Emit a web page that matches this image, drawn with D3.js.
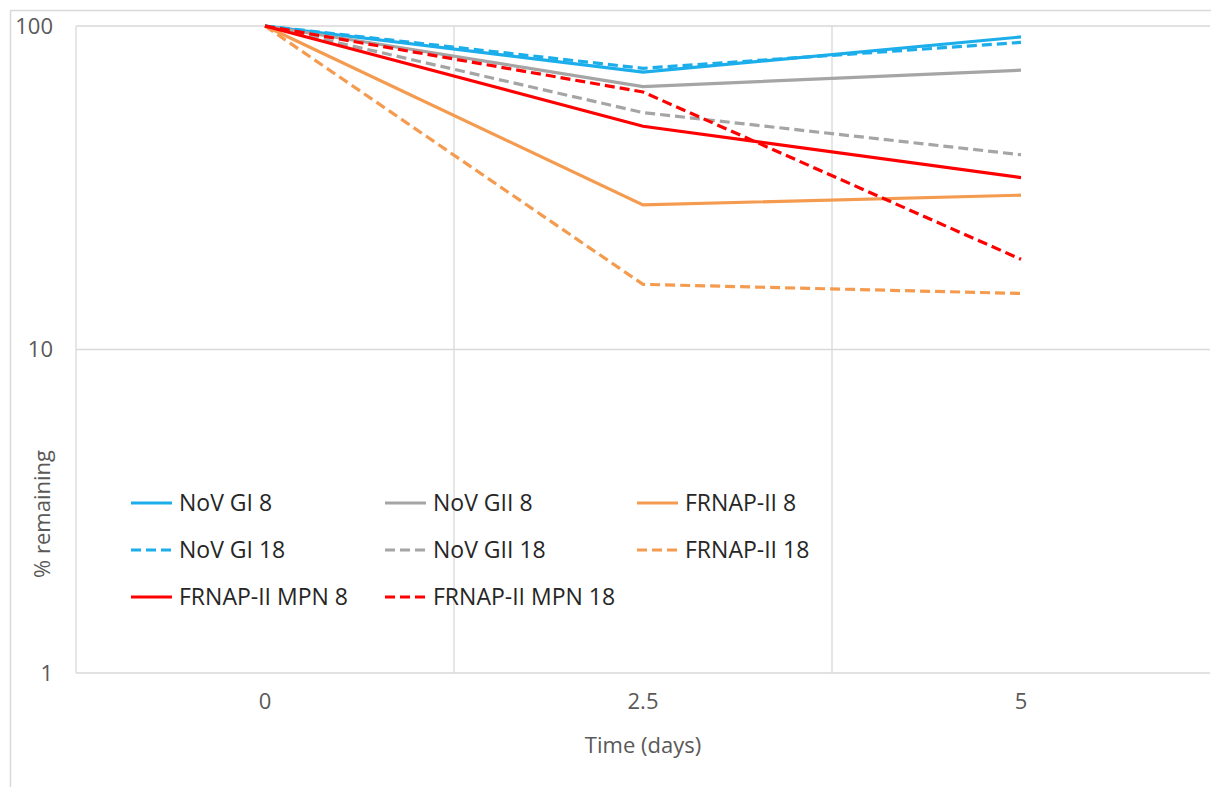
<!DOCTYPE html>
<html>
<head>
<meta charset="utf-8">
<script src="https://cdn.jsdelivr.net/npm/d3@7"></script>
<style>
  body { margin: 0; background: #fff; }
  text { font-family: "Open Sans", sans-serif; }
</style>
</head>
<body>
<script>
// data
var days = ["0", "2.5", "5"];
var yTicks = [1, 10, 100];

var series = [
  { name: "NoV GI 8",          values: [100, 72, 92.5], color: "#1CAEEA", dash: null },
  { name: "NoV GII 8",         values: [100, 65, 73],   color: "#A5A5A5", dash: null },
  { name: "FRNAP-II 8",        values: [100, 28, 30],   color: "#F59B4F", dash: null },
  { name: "NoV GI 18",         values: [100, 74, 89],   color: "#1CAEEA", dash: "10,5" },
  { name: "NoV GII 18",        values: [100, 54, 40],   color: "#A5A5A5", dash: "10,5" },
  { name: "FRNAP-II 18",       values: [100, 15.9, 14.9], color: "#F59B4F", dash: "10,5" },
  { name: "FRNAP-II MPN 8",    values: [100, 49, 34],   color: "#FF0000", dash: null },
  { name: "FRNAP-II MPN 18",   values: [100, 62.5, 19], color: "#FF0000", dash: "10,5" }
];

var w = 1211, h = 787;
// plot area edges
var plotL = 76, plotR = 1210, plotT = 26, plotB = 673;

var svg = d3.select("body").append("svg")
    .attr("width", w)
    .attr("height", h);

// outer chart border
svg.append("rect")
    .attr("x", 10.5)
    .attr("y", 10.5)
    .attr("width", 1210)
    .attr("height", 800)
    .attr("fill", "none")
    .attr("stroke", "#D9D9D9")
    .attr("stroke-width", 1.5);

var x = d3.scaleBand().domain(days).range([plotL, plotR]);
var y = d3.scaleLog().domain([1, 100]).range([plotB, plotT]);

// horizontal grid
svg.selectAll(".hgrid")
    .data(yTicks)
    .enter().append("line")
    .attr("x1", plotL)
    .attr("x2", plotR)
    .attr("y1", function(d) { return y(d); })
    .attr("y2", function(d) { return y(d); })
    .attr("stroke", "#D9D9D9")
    .attr("stroke-width", 1.3);

// vertical grid at band edges
svg.selectAll(".vgrid")
    .data(days)
    .enter().append("line")
    .attr("x1", function(d) { return x(d); })
    .attr("x2", function(d) { return x(d); })
    .attr("y1", plotT)
    .attr("y2", plotB)
    .attr("stroke", "#D9D9D9")
    .attr("stroke-width", 1.3);

// y axis labels
var yAxis = d3.axisLeft(y).tickValues(yTicks).tickSize(0).tickPadding(0)
    .tickFormat(d3.format("d"));
var gy = svg.append("g")
    .attr("transform", "translate(53,0)")
    .call(yAxis);
gy.select(".domain").remove();
gy.selectAll("text")
    .attr("fill", "#595959")
    .style("font-size", "22px")
    .style("font-family", "Open Sans");

// x axis labels
var xAxis = d3.axisBottom(x).tickSize(0).tickPadding(0);
var gx = svg.append("g")
    .attr("transform", "translate(0,693)")
    .call(xAxis);
gx.select(".domain").remove();
gx.selectAll("text")
    .attr("fill", "#595959")
    .style("font-size", "22px")
    .style("font-family", "Open Sans");

// axis titles
svg.append("text")
    .attr("x", x("2.5") + x.bandwidth() / 2)
    .attr("y", 753)
    .attr("text-anchor", "middle")
    .attr("fill", "#595959")
    .style("font-size", "22px")
    .text("Time (days)");

svg.append("text")
    .attr("transform", "translate(50,514) rotate(-90)")
    .attr("text-anchor", "middle")
    .attr("fill", "#595959")
    .style("font-size", "22px")
    .text("% remaining");

// lines
var line = d3.line()
    .x(function(d, i) { return x(days[i]) + x.bandwidth() / 2; })
    .y(function(d) { return y(d); });

svg.selectAll(".series")
    .data(series)
    .enter().append("path")
    .attr("d", function(d) { return line(d.values); })
    .attr("fill", "none")
    .attr("stroke", function(d) { return d.color; })
    .attr("stroke-width", 3.2)
    .attr("stroke-dasharray", function(d) { return d.dash; });

// legend, 3 columns filled row by row
var colX = [131, 385, 637];
var rowY = [503, 550, 597];

var leg = svg.selectAll(".leg")
    .data(series)
    .enter().append("g")
    .attr("transform", function(d, i) {
        return "translate(" + colX[i % 3] + "," + rowY[Math.floor(i / 3)] + ")";
    });

leg.append("line")
    .attr("x1", 0)
    .attr("x2", 41)
    .attr("y1", 0)
    .attr("y2", 0)
    .attr("stroke", function(d) { return d.color; })
    .attr("stroke-width", 3.2)
    .attr("stroke-dasharray", function(d) { return d.dash; });

leg.append("text")
    .attr("x", 48)
    .attr("y", 8)
    .attr("fill", "#262626")
    .style("font-size", "23px")
    .text(function(d) { return d.name; });
</script>
</body>
</html>
